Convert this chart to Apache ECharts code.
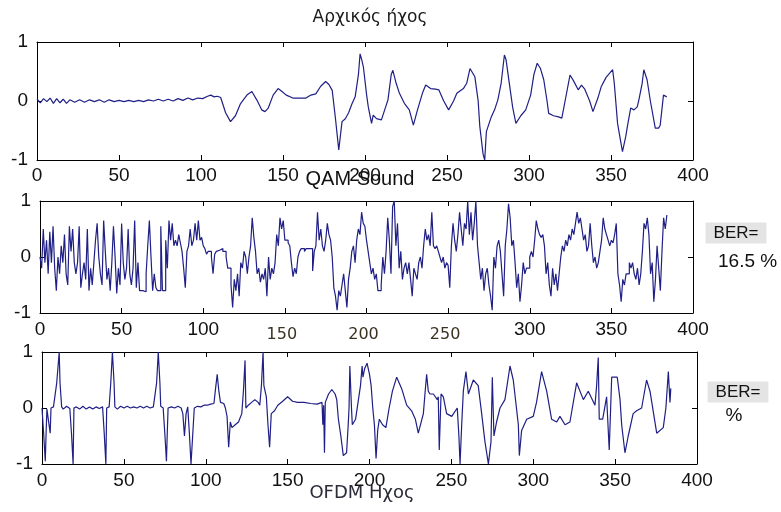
<!DOCTYPE html>
<html>
<head>
<meta charset="utf-8">
<script src="https://cdn.jsdelivr.net/npm/echarts@6/dist/echarts.min.js"></script>
<style>
  html, body { margin: 0; padding: 0; background: #ffffff; }
  #chart { width: 781px; height: 512px; }
</style>
</head>
<body>
<div id="chart"></div>
<script>
// Axis ranges shared by the three panels
const xRange = [0, 400];
const xStep = 50;
const yRange = [-1, 1];
const yStep = 1;

// Panel texts
const titles = ['Αρχικός ήχος', 'QAM Sound', 'OFDM Ηχος'];
const berLabel = 'BER=';
const berQam = '16.5 %';
const berOfdm = '%';

// Original sound: sample positions and amplitudes
const origX = [0,2,4,6,8,10,12,14,16,18,20,23,26,29,32,35,38,41,44,47,50,53,56,59,62,65,68,71,74,77,80,83,86,89,92,95,98,101,104,106,108,110,112,
  115,118,121,124,128,131,134,137,139,141,144,147,149,152,156,160,164,167,170,173,176,178,180,182,184,185,186,188,190,192,194,196,197,198,199,
  201,202,204,205,207,210,212,214,216,217,219,221,224,227,229.5,232,235,237,240,243,245,248,251,254,256,260,262,264,267,269,270,272,273,274,
  277,279,281,283,285,286,288,290,292,295,298,301,303,305,307,309,311,312,315,318,320,322,325,327,330,332,334,337,339,342,344,347,351,352,
  354,356,357,359,360,362,364,366,367,369,370,371,372,374,377,379,380,382,384];
const origY = [0.03,-0.03,0.04,-0.01,0.05,-0.04,0.04,-0.03,0.03,-0.04,0.02,-0.02,0.02,-0.02,0.02,-0.01,0.02,-0.02,0.02,-0.01,0.01,-0.01,0.01,-0.01,0.01,-0.01,0.02,0.0,0.03,0.0,0.03,0.0,0.04,0.01,0.05,0.02,0.05,0.04,0.08,0.1,0.07,0.08,0.06,
  -0.2,-0.35,-0.25,-0.05,0.1,0.16,0.02,-0.15,-0.18,-0.12,0.1,0.21,0.17,0.1,0.05,0.05,0.05,0.1,0.12,0.25,0.33,0.28,0.18,-0.3,-0.83,-0.86,-0.35,-0.3,-0.2,-0.05,0.07,0.45,0.8,0.7,0.58,
  0.1,-0.1,-0.38,-0.24,-0.3,-0.32,-0.15,0.02,0.45,0.52,0.3,0.13,-0.04,-0.15,-0.41,-0.15,0.13,0.27,0.21,0.2,0.19,0.0,-0.15,0.0,0.13,0.21,0.3,0.55,0.41,0.0,-0.43,-0.9,-1.0,-0.52,
  -0.27,-0.15,0.02,0.3,0.78,0.7,0.3,-0.1,-0.38,-0.25,-0.15,0.1,0.45,0.64,0.55,0.36,0.0,-0.21,-0.25,-0.27,-0.29,0.0,0.44,0.35,0.19,0.27,0.2,0.0,-0.18,0.05,0.24,0.4,0.53,0.3,
  -0.38,-0.7,-0.86,-0.6,-0.43,-0.12,-0.15,-0.1,0.02,0.3,0.53,0.53,0.36,0.0,-0.46,-0.46,-0.41,0.1,0.07];

// QAM sound: one amplitude per sample, samples 0..384
const qamY = [
  0.0,-0.2,0.5,-0.1,0.3,-0.3,0.45,-0.1,0.55,-0.2,
  -0.6,0.0,-0.3,0.2,-0.1,0.4,-0.3,-0.5,0.55,0.1,
  0.5,-0.1,-0.3,-0.1,0.55,-0.55,-0.3,-0.1,-0.4,0.5,
  -0.6,-0.2,-0.5,-0.1,0.3,0.6,0.0,-0.3,-0.5,0.65,
  0.1,-0.4,-0.2,-0.6,-0.1,0.55,0.0,-0.65,-0.2,-0.5,
  0.6,-0.1,-0.4,-0.2,0.5,-0.3,-0.5,-0.2,0.65,-0.55,
  -0.1,-0.6,-0.6,-0.62,-0.62,-0.3,0.2,0.65,0.0,-0.6,
  -0.3,-0.55,-0.6,-0.6,0.55,-0.6,-0.6,0.3,-0.2,0.65,
  0.3,0.6,0.2,0.3,0.2,0.4,0.25,0.1,-0.2,-0.55,
  0.1,0.2,0.5,0.2,0.3,0.6,0.3,0.65,0.3,0.35,
  0.2,0.15,0.05,0.1,0.1,0.0,-0.3,0.05,0.1,0.12,
  0.1,0.15,0.1,0.1,0.0,-0.2,-0.2,-0.5,-0.9,-0.4,
  -0.6,-0.3,-0.7,-0.1,-0.2,0.1,0.0,-0.3,0.0,0.2,
  0.7,0.35,0.1,-0.3,-0.2,-0.45,-0.3,-0.4,-0.2,-0.7,
  0.0,-0.4,-0.2,-0.3,-0.1,0.4,0.2,0.7,0.5,0.65,
  0.3,0.3,0.25,0.2,-0.1,-0.35,-0.2,-0.3,0.0,0.1,
  0.15,0.15,0.1,0.15,0.15,0.12,0.15,-0.25,0.1,0.2,
  0.8,0.3,0.5,0.2,0.1,0.3,0.6,0.4,0.3,0.0,
  -0.55,-0.7,-0.95,-0.6,-0.7,-0.5,-0.3,-0.6,-0.9,-0.4,
  -0.2,0.1,0.2,-0.1,0.3,0.5,0.4,0.8,0.6,0.55,
  0.3,0.1,-0.1,-0.3,-0.2,-0.4,-0.3,-0.6,-0.6,-0.5,
  0.0,-0.3,0.1,0.7,0.3,-0.3,0.9,1.0,0.2,0.6,
  -0.2,0.1,-0.4,-0.2,-0.1,-0.3,-0.1,-0.4,-0.7,-0.2,
  -0.3,-0.4,-0.1,0.0,-0.2,0.2,0.5,0.3,0.4,0.2,
  0.8,0.2,0.15,0.2,0.1,0.0,-0.1,0.0,-0.2,-0.1,
  -0.15,-0.55,0.2,0.6,0.3,0.1,0.4,0.8,0.5,0.2,
  0.6,0.5,1.0,0.4,0.8,0.3,0.6,1.0,0.2,-0.1,
  -0.4,-0.2,-0.6,-0.3,-0.2,-0.5,-0.7,-0.95,0.0,-0.2,
  0.2,0.3,0.1,-0.3,-0.7,0.2,0.5,0.95,0.7,0.2,
  0.3,-0.1,-0.55,-0.3,-0.8,-0.5,-0.1,-0.3,-0.2,-0.2,
  0.0,0.1,0.0,0.3,0.65,0.5,0.4,0.35,0.4,0.2,
  -0.3,-0.1,-0.5,-0.7,-0.2,-0.5,-0.3,-0.6,-0.3,0.0,
  0.2,0.1,0.3,0.2,0.4,0.3,0.5,0.4,0.6,0.8,
  0.6,0.7,0.5,0.3,0.4,0.1,0.2,0.6,0.2,-0.1,
  0.0,-0.2,-0.1,0.1,0.3,0.7,0.5,0.4,0.3,0.2,
  0.3,0.25,0.4,0.6,-0.3,-0.5,-0.8,-0.4,-0.5,-0.3,
  -0.3,-0.1,-0.2,-0.1,-0.3,-0.4,-0.2,-0.5,-0.3,0.1,
  0.6,0.5,0.7,0.4,-0.3,-0.1,-0.8,-0.4,0.2,-0.2,
  -0.6,0.1,0.7,0.5,0.75
];

// OFDM sound: sample positions and amplitudes
const ofdmX = [0,1,2,2.5,3,4,5,5.5,7,8,9,10,10.5,11,12,13,15,17,18,19,19.5,21,23,25,27,29,31,33,35,37,38,39,39.5,41,42,43,44,44.5,46,48,50,52,54,56,58,60,62,64,66,68,
  70,71,72,72.5,74,75,76,76.5,77,79,81,83,85,86,87,88,89,90,91,92,93,95,97,99,101,103,105,106,107,108,109,111,112,113,114,115,116,118,120,122,123,124,124.5,126,128,130,132,133,
  134,135,135.5,137,138,139,140,142,144,147,150,153,156,160,164,168,171,171.5,172,172.5,173,175,177,179,180,181,182.5,184,186,187,187.5,188,189,189.5,191.5,193,194.5,195.5,196,197,198.5,
  200,201,202,203,204,205,206,208,210,212,214,216.6,219.6,222.7,225.7,228,229.8,232.9,234,234.9,235.9,236.9,239,241.4,242,242.6,243.7,245.1,247.1,250.2,253.6,254.6,255.3,256.3,257.3,
  258.9,260.4,263.4,266.4,268.5,270.5,272.6,274.2,275,276,277.6,279.7,282.7,285.8,287.8,290.9,291.5,292.9,296,300,302,305.1,308.2,311.2,314.3,316.3,319.4,322.4,326.5,330.6,333.6,
  337.7,338.7,339.7,340.3,342.4,344.8,346.4,347.9,351.3,353,354,356,358,361,363.1,366.2,369.2,371.3,375.4,379.4,381,382.5,383.5,384];
const ofdmY = [0,-0.45,-0.95,-0.45,-0.02,0.0,-0.45,0.0,0.02,0.0,0.45,0.45,1.0,0.45,0.02,-0.02,0.03,-0.01,-0.45,-1.0,0.0,0.02,-0.02,0.03,-0.02,0.02,-0.02,0.02,-0.01,0.02,-0.45,-1.0,0.0,0.02,0.45,1.0,0.45,0.02,-0.02,0.03,0.0,0.03,0.0,0.02,0.0,0.03,0.0,0.03,0.0,0.02,
  0.45,1.0,0.45,0.03,0.0,-0.45,-0.95,-0.45,0.0,0.02,0.0,0.03,0.0,-0.1,-0.5,-0.1,0.02,-0.45,-1.0,-0.5,0.0,0.03,0.02,0.05,0.05,0.07,0.08,0.35,0.6,0.3,0.1,0.08,0.0,-0.15,-0.7,-0.25,-0.35,-0.3,-0.25,-0.1,0.3,0.85,0.0,0.05,0.1,0.15,0.1,0.05,
  0.4,1.0,0.4,0.2,-0.3,-0.7,-0.1,-0.05,0.05,0.12,0.2,0.12,0.1,0.1,0.08,0.07,0.1,-0.3,0.05,-0.8,0.1,0.25,0.33,0.25,0.15,-0.2,-0.5,-0.85,-0.8,-0.3,0.0,0.75,0.0,-0.3,-0.2,0.1,0.4,0.75,0.55,0.7,0.8,
  0.6,0.4,0.0,-0.3,-0.9,-0.4,-0.2,-0.3,-0.35,0.0,0.3,0.55,0.35,0.05,-0.05,-0.2,-0.45,-0.1,0.3,0.6,0.3,0.25,0.25,0.15,0.2,-0.75,0.25,0.2,-0.1,-0.15,0.0,-0.5,-1.0,-0.3,0.3,
  0.65,0.25,0.5,0.4,-0.1,-0.6,-1.0,-0.6,0.55,-0.5,-0.25,0.0,0.15,0.75,0.5,-0.3,-0.85,-0.4,-0.2,-0.15,0.1,0.65,0.3,-0.2,-0.25,-0.15,-0.3,-0.25,0.45,0.15,0.3,
  0.05,0.4,0.9,-0.2,-0.2,0.2,-0.75,0.55,0.55,0.15,-0.3,-0.8,-0.5,-0.1,-0.05,0.0,0.5,0.3,-0.45,-0.35,0.0,0.65,0.1,0.35];

const lineColor = '#1f1f86';
const tickFont = 'Liberation Sans, Arial, sans-serif';

const zip = (xs, ys) => xs.map((x, i) => [x, ys[i]]);

const grids = [
  { left: 37, top: 42, width: 656, height: 118 },
  { left: 40, top: 201, width: 653, height: 112 },
  { left: 42, top: 352, width: 655, height: 112 }
];

const baseTick = { show: true, inside: true, length: 5, lineStyle: { color: '#000', width: 1 } };
const baseLine = { show: true, onZero: false, lineStyle: { color: '#000', width: 1 } };

const xLabelMargin = [6, 7, 7];

const xAxes = [];
const yAxes = [];
grids.forEach((g, i) => {
  const label = {
    fontFamily: tickFont, fontSize: 19, color: '#111', margin: xLabelMargin[i]
  };
  if (i === 1) {
    label.formatter = v => (v >= 150 && v <= 250) ? '{s|' + v + '}' : String(v);
    label.rich = {
      s: { fontFamily: 'DejaVu Sans', fontSize: 16, color: '#3a3322', padding: [7, 6, 0, 0] }
    };
  }
  xAxes.push({
    gridIndex: i, type: 'value', position: 'bottom',
    min: xRange[0], max: xRange[1], interval: xStep,
    axisLine: baseLine, axisTick: baseTick, axisLabel: label,
    splitLine: { show: false }
  });
  yAxes.push({
    gridIndex: i, type: 'value', position: 'left',
    min: yRange[0], max: yRange[1], interval: yStep,
    axisLine: baseLine, axisTick: baseTick,
    axisLabel: { fontFamily: tickFont, fontSize: 19, color: '#111', margin: 9 },
    splitLine: { show: false }
  });
});
// mirrored box edges (top and right), ticks only
grids.forEach((g, i) => {
  xAxes.push({
    gridIndex: i, type: 'value', position: 'top',
    min: xRange[0], max: xRange[1], interval: xStep,
    axisLine: baseLine, axisTick: baseTick, axisLabel: { show: false },
    splitLine: { show: false }
  });
  yAxes.push({
    gridIndex: i, type: 'value', position: 'right',
    min: yRange[0], max: yRange[1], interval: yStep,
    axisLine: baseLine, axisTick: baseTick, axisLabel: { show: false },
    splitLine: { show: false }
  });
});

const lineSeries = (idx, data, step) => ({
  type: 'line', xAxisIndex: idx, yAxisIndex: idx, data: data,
  showSymbol: false, symbol: 'none', step: step || false, animation: false,
  clip: true,
  lineStyle: { color: lineColor, width: 1.2 }
});

const chart = echarts.init(document.getElementById('chart'), null, { renderer: 'canvas' });
chart.setOption({
  backgroundColor: '#ffffff',
  animation: false,
  grid: grids,
  xAxis: xAxes,
  yAxis: yAxes,
  series: [
    lineSeries(0, zip(origX, origY)),
    lineSeries(1, qamY.map((v, i) => [i, v]), 'end'),
    lineSeries(2, zip(ofdmX, ofdmY))
  ],
  graphic: [
    { type: 'text', x: 370, y: 18, style: { text: titles[0], align: 'center', verticalAlign: 'middle', fontFamily: 'DejaVu Sans', fontSize: 17, fill: '#1a1a1a' } },
    { type: 'text', x: 360, y: 179, style: { text: titles[1], align: 'center', verticalAlign: 'middle', fontFamily: tickFont, fontSize: 20, fill: '#111' } },
    { type: 'text', x: 362, y: 493, style: { text: titles[2], align: 'center', verticalAlign: 'middle', fontFamily: 'DejaVu Sans', fontSize: 18, fill: '#2b2b3a' } },
    { type: 'text', x: 736, y: 233, style: { text: berLabel, align: 'center', verticalAlign: 'middle', fontFamily: tickFont, fontSize: 17, fill: '#111', backgroundColor: '#e4e4e4', padding: [2, 8, 2, 8] } },
    { type: 'text', x: 718, y: 262, style: { text: berQam, align: 'left', verticalAlign: 'middle', fontFamily: tickFont, fontSize: 19, fill: '#111' } },
    { type: 'text', x: 738, y: 392, style: { text: berLabel, align: 'center', verticalAlign: 'middle', fontFamily: tickFont, fontSize: 17, fill: '#111', backgroundColor: '#e4e4e4', padding: [2, 8, 2, 8] } },
    { type: 'text', x: 734, y: 416, style: { text: berOfdm, align: 'center', verticalAlign: 'middle', fontFamily: tickFont, fontSize: 19, fill: '#111' } }
  ]
});
</script>
</body>
</html>
